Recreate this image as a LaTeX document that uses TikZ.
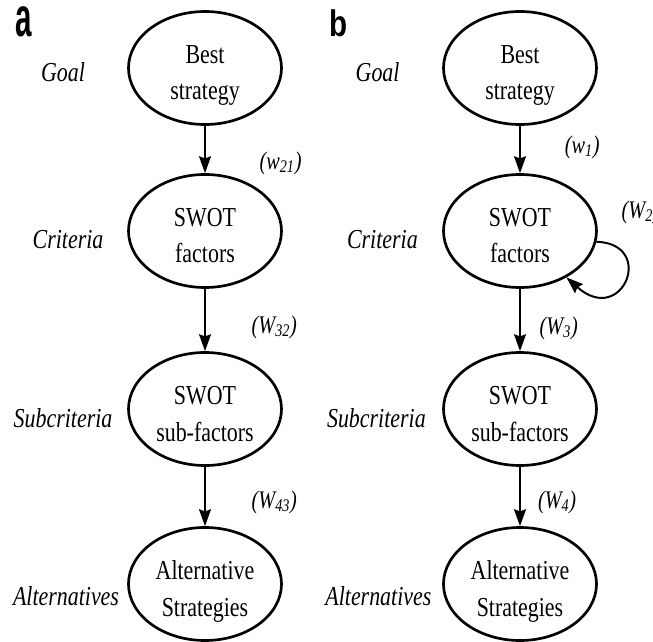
\documentclass[tikz,border=0pt]{standalone}
\usepackage{fontspec}
\setmainfont{Liberation Serif}[FakeStretch=0.8]
\newfontfamily\panelfont{Liberation Sans}[FakeStretch=0.8]
\usetikzlibrary{shapes.geometric,arrows.meta}

\tikzset{
	level/.style={ellipse,draw,line width=1.9pt,minimum width=3.825cm,minimum height=2.825cm,inner sep=0pt,align=center,text height=1.6cm,text depth=0pt,font=\fontsize{19.5}{26}\selectfont},
	tier/.style={font=\fontsize{19.5}{20}\selectfont\itshape},
	weight/.style={anchor=west,font=\fontsize{18}{18}\selectfont\itshape},
	panel/.style={anchor=base,font=\panelfont\bfseries\fontsize{26.3}{26.3}\selectfont},
}

\begin{document}
\begin{tikzpicture}[line width=1.4pt,>={Stealth[length=12pt,width=8.5pt,inset=1.5pt]}]
	\useasboundingbox (0,0) rectangle (16.325,-16.05);

	%PANEL A
	\node[panel] (tagA) at (0.59,-0.925) {\scalebox{1}[1.5]{a}};
	\node[level] (goalA) at (5.125,-1.7)   {Best\\strategy};
	\node[level] (critA) at (5.125,-5.775) {SWOT\\factors};
	\node[level] (subA)  at (5.125,-10.225) {SWOT\\sub-factors};
	\node[level] (altA)  at (5.125,-14.6)  {Alternative\\Strategies};
	%
	\node[tier] (tGoalA) at (1.575,-1.8)  {Goal};
	\node[tier] (tCritA) at (1.7,-6.0)    {Criteria};
	\node[tier] (tSubA)  at (1.575,-10.45) {Subcriteria};
	\node[tier] (tAltA)  at (1.65,-14.9)  {Alternatives};
	%
	\draw[->] (goalA)--(critA);
	\draw[->] (critA)--(subA);
	\draw[->] (subA)--(altA);
	\node[weight] (w21) at (6.35,-4.075) {(w\textsubscript{21})};
	\node[weight] (W32) at (6.15,-8.175) {(W\textsubscript{32})};
	\node[weight] (W43) at (6.15,-12.55) {(W\textsubscript{43})};

	%PANEL B
	\node[panel] (tagB) at (8.475,-0.925) {b};
	\node[level] (goalB) at (13,-1.7)   {Best\\strategy};
	\node[level] (critB) at (13,-5.775) {SWOT\\factors};
	\node[level] (subB)  at (13,-10.225) {SWOT\\sub-factors};
	\node[level] (altB)  at (13,-14.6)  {Alternative\\Strategies};
	%
	\node[tier] (tGoalB) at (9.44,-1.8)  {Goal};
	\node[tier] (tCritB) at (9.56,-6.0)  {Criteria};
	\node[tier] (tSubB)  at (9.41,-10.45) {Subcriteria};
	\node[tier] (tAltB)  at (9.46,-14.9) {Alternatives};
	%
	\draw[->] (goalB)--(critB);
	\draw[->] (critB)--(subB);
	\draw[->] (subB)--(altB);
	\draw[->] (critB.-8) .. controls +(1.5,-0.05) and +(1.4,-1.25) .. (critB.-45);
	\node[weight] (w1) at (13.98,-3.675) {(w\textsubscript{1})};
	\node[weight] (W2) at (15.4,-5.3) {(W\textsubscript{2})};
	\node[weight] (W3) at (13.35,-8.2) {(W\textsubscript{3})};
	\node[weight] (W4) at (13.31,-12.55) {(W\textsubscript{4})};
\end{tikzpicture}
\end{document}
